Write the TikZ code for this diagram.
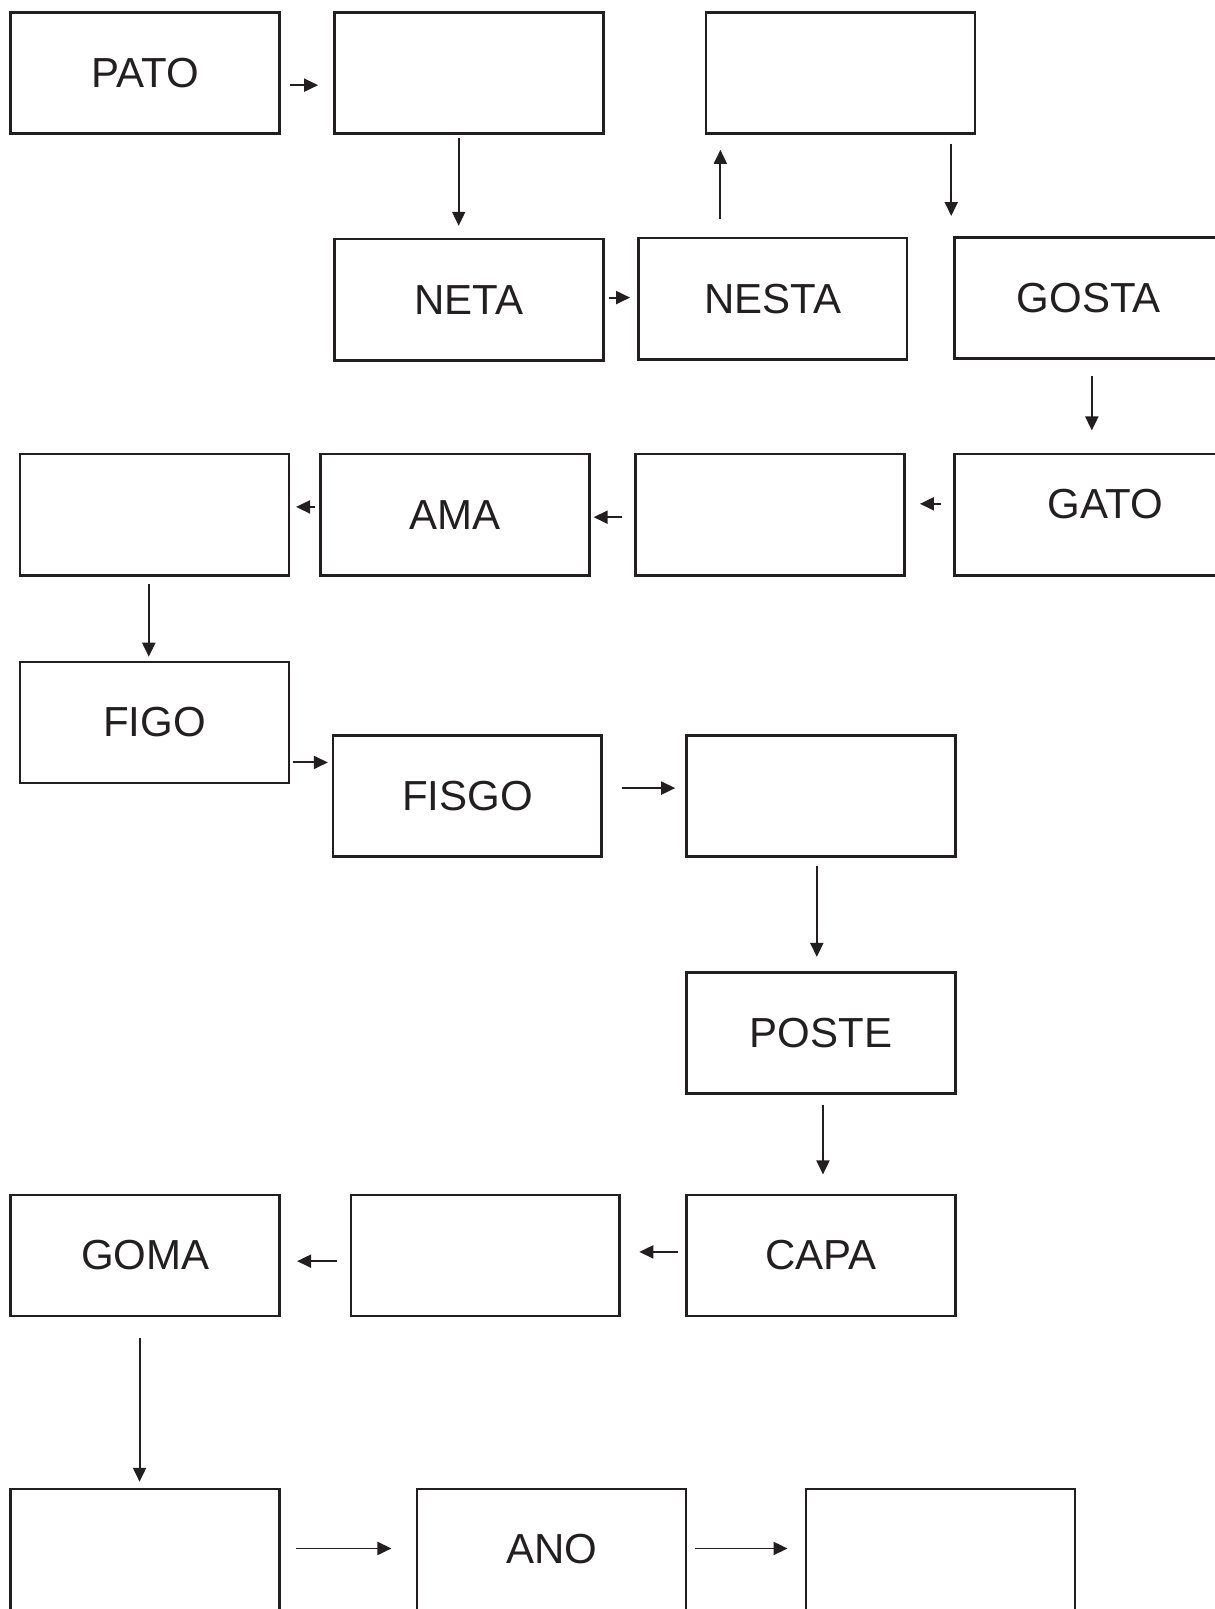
\documentclass[tikz,border=0pt]{standalone}
\usepackage{fontspec}
\setmainfont{Liberation Sans}
\usetikzlibrary{calc,arrows.meta}
\def\pxu{0.51309pt}
\definecolor{ink}{HTML}{231F20}
\tikzset{
  wbox/.style={draw=ink, line width=1.35pt, rectangle, inner sep=0pt, outer sep=0pt,
    minimum width=262*\pxu, minimum height=118*\pxu, text=ink,
    font=\fontsize{21pt}{24pt}\selectfont},
  lbl/.style={text=ink, inner sep=0pt, font=\fontsize{21pt}{24pt}\selectfont},
  arr/.style={draw=ink, line width=0.95pt, -{Triangle[length=7pt,width=6.5pt]}},
  sh/.style 2 args={shorten <=#1*\pxu, shorten >=#2*\pxu},
}
\begin{document}
\begin{tikzpicture}[x=0.51309pt, y=-0.51309pt]
\fill[white] (0,0) rectangle (1184,1568);
\clip (0,0) rectangle (1184,1568);
% row 1
\node[wbox] (pato) at (141.5,71) {PATO};
\node[wbox] (b2) at (457,71) {};
\node[wbox] (b3) at (819,71) {};
% row 2
\node[wbox] (neta) at (457,292) {NETA};
\node[wbox] (nesta) at (753,291) {NESTA};
\node[wbox] (gosta) at (1061,290.5) {GOSTA};
% row 3
\node[wbox] (r3a) at (150.5,501.5) {};
\node[wbox] (ama) at (443.5,501.5) {AMA};
\node[wbox] (e2) at (750.5,501.5) {};
\node[wbox] (gato) at (1061,501.5) {};
\node[lbl] (gatotxt) at (1077,491) {GATO};
% row 4
\node[wbox] (figo) at (150.5,704) {FIGO};
\node[wbox] (fisgo) at (455.5,776) {FISGO};
\node[wbox] (e4) at (800,776) {};
% row 5
\node[wbox] (poste) at (800,1006.5) {POSTE};
% row 6
\node[wbox] (goma) at (141.5,1223.5) {GOMA};
\node[wbox] (e5) at (473,1223.5) {};
\node[wbox] (capa) at (800,1223.5) {CAPA};
% row 7
\node[wbox] (b1) at (141.5,1510) {};
\node[wbox] (ano) at (537.5,1510) {ANO};
\node[wbox] (bend) at (916.5,1510) {};
% connectors
\draw[arr, sh={10}{16}] ($(pato.east)+(0,12)$) -- ($(b2.west)+(0,12)$);
\draw[arr, sh={4}{13}] ($(b2.south)+(-10,0)$) -- ($(neta.north)+(-10,0)$);
\draw[arr, sh={5}{8}] ($(neta.east)+(0,-2)$) -- ($(nesta.west)+(0,-1)$);
\draw[arr, sh={19}{16}] ($(nesta.north)+(-51,0)$) -- ($(b3.south)+(-117,0)$);
\draw[arr, sh={10}{21}] ($(b3.south)+(108,0)$) -- ($(gosta.north)+(-134,0)$);
\draw[arr, sh={17}{23}] ($(gosta.south)+(3,0)$) -- ($(gato.north)+(3,0)$);
\draw[arr, sh={13}{15}] ($(gato.west)+(0,-10.5)$) -- ($(e2.east)+(0,-10.5)$);
\draw[arr, sh={13}{4}] ($(e2.west)+(0,2.5)$) -- ($(ama.east)+(0,2.5)$);
\draw[arr, sh={6}{7}] ($(ama.west)+(0,-7.5)$) -- ($(r3a.east)+(0,-7.5)$);
\draw[arr, sh={9}{5}] ($(r3a.south)+(-5.5,0)$) -- ($(figo.north)+(-5.5,0)$);
\draw[arr, sh={4}{5}] ($(figo.east)+(0,39)$) -- ($(fisgo.west)+(0,-33)$);
\draw[arr, sh={20}{11}] ($(fisgo.east)+(0,-8)$) -- ($(e4.west)+(0,-8)$);
\draw[arr, sh={9}{15}] ($(e4.south)+(-4,0)$) -- ($(poste.north)+(-4,0)$);
\draw[arr, sh={11}{20}] ($(poste.south)+(2,0)$) -- ($(capa.north)+(2,0)$);
\draw[arr, sh={8}{19}] ($(capa.west)+(0,-3.5)$) -- ($(e5.east)+(0,-3.5)$);
\draw[arr, sh={14}{17}] ($(e5.west)+(0,5.5)$) -- ($(goma.east)+(0,5.5)$);
\draw[arr, sh={21}{7}] ($(goma.south)+(-5.5,0)$) -- ($(b1.north)+(-5.5,0)$);
\draw[arr, sh={16}{25}] ($(b1.east)+(0,-1)$) -- ($(ano.west)+(0,-1)$);
\draw[arr, sh={9}{18}] ($(ano.east)+(0,-1)$) -- ($(bend.west)+(0,-1)$);
\end{tikzpicture}
\end{document}
